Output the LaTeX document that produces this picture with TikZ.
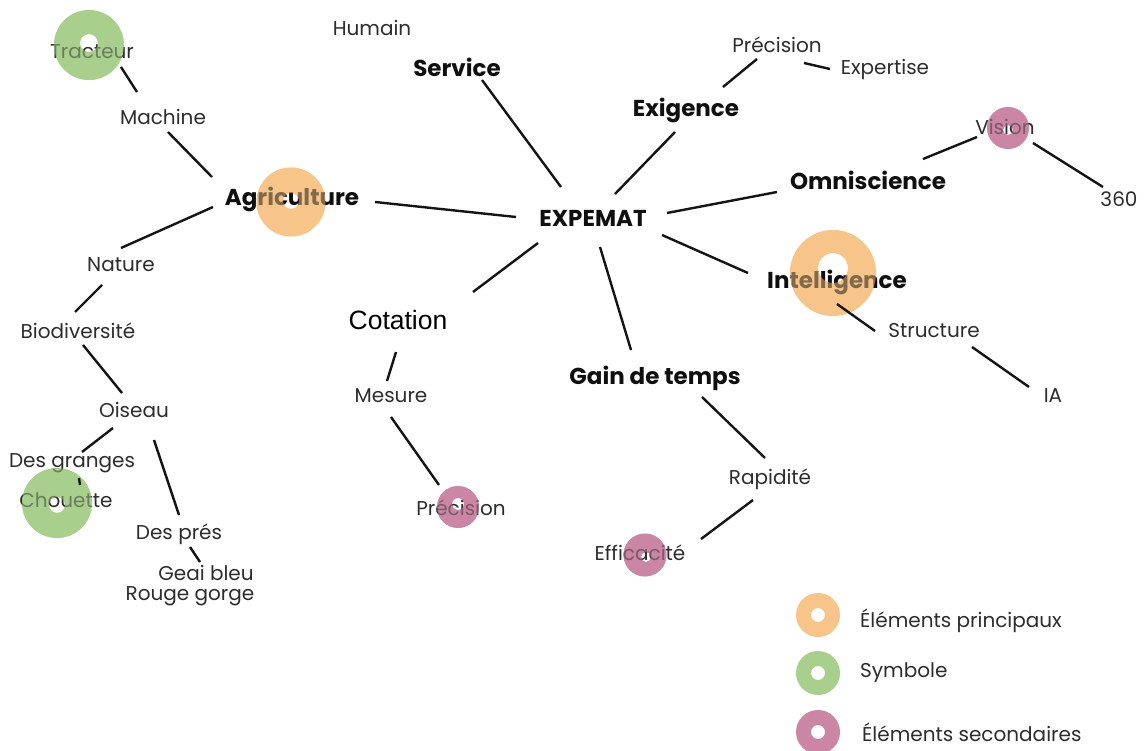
\documentclass[tikz,border=0pt]{standalone}
\usepackage{fontspec}
\setmainfont{Poppins}
\newfontfamily\arialf{Liberation Sans}
\definecolor{ringor}{RGB}{247,196,138}
\definecolor{ringgr}{RGB}{168,207,140}
\definecolor{ringpk}{RGB}{202,134,164}
\definecolor{txtreg}{RGB}{45,45,45}
\definecolor{txtbold}{RGB}{15,15,15}
\definecolor{linec}{RGB}{20,20,20}
\newcommand{\lnk}[4]{\draw[conn] ([shift={(#2)}]#1.center) -- ([shift={(#4)}]#3.center);}
\newcommand{\ringat}[5]{%
  \fill[#1,even odd rule] (#2) circle (#3) (#4) circle (#5);}
\newcommand{\ringover}[5]{%
  \fill[#1,even odd rule,fill opacity=0.5] (#2) circle (#3) (#4) circle (#5);}
\begin{document}
\begin{tikzpicture}[x=1pt,y=-1pt,
  reg/.style={inner sep=0pt,text=txtreg,font=\fontsize{20}{20}\selectfont},
  bld/.style={inner sep=0pt,text=txtbold,font=\fontsize{23}{23}\selectfont\bfseries},
  cot/.style={inner sep=0pt,text=black,font=\arialf\fontsize{26.5}{26.5}\selectfont},
  legtxt/.style={reg,anchor=west},
  conn/.style={draw=linec,line width=2.4pt}]
\useasboundingbox[fill=white] (0,0) rectangle (1144,751);
% rings (under text)
\ringat{ringgr}{89,45}{35}{89,43}{9}
\ringat{ringor}{291,202}{34.5}{291,201}{8}
\ringat{ringor}{833,273}{43}{833,268}{15}
\ringat{ringpk}{1008,128}{21}{1008,130}{5}
\ringat{ringgr}{57,503}{35}{57,505}{8}
\ringat{ringpk}{458,507}{21}{458,504}{6}
\ringat{ringpk}{645,555}{21.5}{646,557}{5}
\ringat{ringor}{818,615}{22}{818,615}{7}
\ringat{ringgr}{818,673}{22}{818,673}{7}
\ringat{ringpk}{818,732}{22}{818,732}{7}
% nodes
\node[reg] (trac) at (92,52) {Tracteur};
\node[reg] (hum) at (372,28) {Humain};
\node[bld] (serv) at (457,67) {Service};
\node[reg] (mach) at (163,117) {Machine};
\node[bld] (agri) at (292,199) {Agriculture};
\node[bld] (expe) at (593,218) {EXPEMAT};
\node[reg] (prec1) at (777,45) {Précision};
\node[reg] (expt) at (885,69) {Expertise};
\node[bld] (exig) at (686,110) {Exigence};
\node[reg] (visi) at (1005,127) {Vision};
\node[bld] (omni) at (868,180) {Omniscience};
\node[reg] (t360) at (1119,199) {360};
\node[bld] (inte) at (837,282) {Intelligence};
\node[reg] (natu) at (121,265) {Nature};
\node[reg] (biod) at (78,331) {Biodiversité};
\node[cot] (cota) at (398,320) {Cotation};
\node[reg] (stru) at (934,331) {Structure};
\node[reg] (mesu) at (391,396) {Mesure};
\node[bld] (gain) at (655,378) {Gain de temps};
\node[reg] (ia) at (1053,396) {IA};
\node[reg] (oise) at (134,410) {Oiseau};
\node[reg] (gran) at (72,463) {Des granges};
\node[reg] (chou) at (66,500) {Chouette};
\node[reg] (prec2) at (461,508) {Précision};
\node[reg] (rapi) at (770,479) {Rapidité};
\node[reg] (pres) at (179,534) {Des prés};
\node[reg] (effi) at (640,553) {Efficacité};
\node[reg] (geai) at (206,573) {Geai bleu};
\node[reg] (roug) at (190,596) {Rouge gorge};
% legend texts
\node[legtxt] (lg1) at (860,621) {Éléments principaux};
\node[legtxt] (lg2) at (860,673) {Symbole};
\node[legtxt] (lg3) at (862,732) {Éléments secondaires};
% rings tint over text
\ringover{ringgr}{89,45}{35}{89,43}{9}
\ringover{ringor}{291,202}{34.5}{291,201}{8}
\ringover{ringor}{833,273}{43}{833,268}{15}
\ringover{ringpk}{1008,128}{21}{1008,130}{5}
\ringover{ringgr}{57,503}{35}{57,505}{8}
\ringover{ringpk}{458,507}{21}{458,504}{6}
\ringover{ringpk}{645,555}{21.5}{646,557}{5}
% connectors
\lnk{trac}{29,15}{mach}{-26,-25}
\lnk{mach}{5,15}{agri}{-80,-22}
\lnk{agri}{-79,8}{natu}{0,-17}
\lnk{natu}{-19,20}{biod}{-3,-19}
\lnk{biod}{5,14}{oise}{-12,-17}
\lnk{oise}{-21,18}{gran}{10,-11}
\lnk{gran}{7,15}{chou}{14,-15}
\lnk{oise}{20,30}{pres}{0,-19}
\lnk{pres}{11,13}{geai}{-6,-11}
\lnk{agri}{83,3}{expe}{-77,-1}
\lnk{serv}{25,13}{expe}{-32,-31}
\lnk{exig}{-11,22}{expe}{22,-24}
\lnk{exig}{37,-23}{prec1}{-20,14}
\lnk{prec1}{27,18}{expt}{-55,0}
\lnk{expe}{74,-5}{omni}{-91,12}
\lnk{omni}{55,-21}{visi}{-28,10}
\lnk{visi}{28,16}{t360}{-16,-12}
\lnk{expe}{69,17}{inte}{-89,-9}
\lnk{inte}{0,22}{stru}{-59,0}
\lnk{stru}{38,16}{ia}{-24,-9}
\lnk{expe}{-55,25}{cota}{75,-28}
\lnk{cota}{-2,32}{mesu}{-4,-15}
\lnk{mesu}{0,21}{prec2}{-22,-23}
\lnk{expe}{7,29}{gain}{-24,-28}
\lnk{gain}{47,19}{rapi}{-5,-21}
\lnk{rapi}{-17,21}{effi}{61,-14}
\end{tikzpicture}
\end{document}
